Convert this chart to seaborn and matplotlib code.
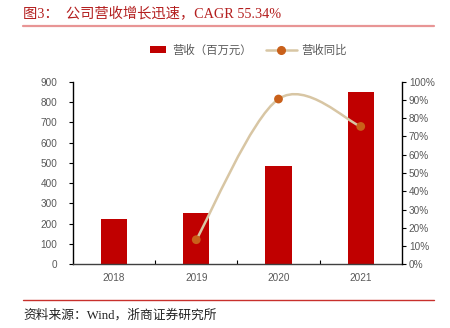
import numpy as np
import pandas as pd
import matplotlib
matplotlib.use("Agg")
import matplotlib.pyplot as plt
import seaborn as sns
from matplotlib.path import Path
from matplotlib.patches import PathPatch, Patch
from matplotlib.lines import Line2D

years = ["2018", "2019", "2020", "2021"]
revenue = [222, 253, 484, 847]
growth_years = ["2019", "2020", "2021"]
growth = [0.135, 0.905, 0.755]
left_ticks = [0, 100, 200, 300, 400, 500, 600, 700, 800, 900]
right_ticks = [0, 0.1, 0.2, 0.3, 0.4, 0.5, 0.6, 0.7, 0.8, 0.9, 1.0]

title_text = "图3：  公司营收增长迅速，CAGR 55.34%"
source_text = "资料来源：Wind，浙商证券研究所"
bar_label = "营收（百万元）"
line_label = "营收同比"

sns.set_style("white")
plt.rcParams["font.family"] = ["Liberation Sans", "Noto Sans CJK SC", "DejaVu Sans"]

BAR_C = "#C00000"
LINE_C = "#D8C6A4"
DOT_C = "#C9601A"
TICK_C = "#595959"
SANS = ["Liberation Sans", "DejaVu Sans"]
SERIF_CJK = ["Liberation Serif", "Noto Sans CJK SC", "DejaVu Sans"]

fig = plt.figure(figsize=(4.5, 3.28), dpi=100)
ax = fig.add_axes([0.162, 0.194, 0.731, 0.557])

df = pd.DataFrame({"year": years, "rev": revenue})
sns.barplot(data=df, x="year", y="rev", color=BAR_C, width=0.32, ax=ax,
            saturation=1, edgecolor="none", linewidth=0)
ax.set_xlim(-0.5, 3.5)
ax.set_ylim(0, 900)
ax.set_yticks(left_ticks)
ax.set_yticklabels([str(t) for t in left_ticks])
ax.set_xlabel("")
ax.set_ylabel("")

ax2 = ax.twinx()
ax2.set_ylim(0, 1.0)
ax2.set_yticks(right_ticks)
ax2.set_yticklabels([f"{int(round(t*100))}%" for t in right_ticks])

# smooth curve (Catmull-Rom style Bezier through data points)
xs = [years.index(y) for y in growth_years]
pts = list(zip(xs, growth))
verts = [pts[0]]
codes = [Path.MOVETO]
n = len(pts)
for i in range(n - 1):
    p0 = pts[i - 1] if i > 0 else pts[i]
    p1 = pts[i]
    p2 = pts[i + 1]
    p3 = pts[i + 2] if i + 2 < n else pts[i + 1]
    c1 = (p1[0] + (p2[0] - p0[0]) / 6, p1[1] + (p2[1] - p0[1]) / 6)
    c2 = (p2[0] - (p3[0] - p1[0]) / 6, p2[1] - (p3[1] - p1[1]) / 6)
    verts += [c1, c2, p2]
    codes += [Path.CURVE4] * 3
ax2.add_patch(PathPatch(Path(verts, codes), facecolor="none", edgecolor=LINE_C,
                        lw=1.8, zorder=3))
gdf = pd.DataFrame({"x": xs, "g": growth})
sns.scatterplot(data=gdf, x="x", y="g", ax=ax2, color=DOT_C, s=40,
                edgecolor="none", zorder=4, legend=False)
ax2.set_xlabel("")
ax2.set_ylabel("")
ax.set_xticks(range(len(years)))
ax.set_xticklabels(years)
ax.set_xlim(-0.5, 3.5)

for a in (ax, ax2):
    a.spines["top"].set_visible(False)
    a.spines["left"].set_color("black")
    a.spines["right"].set_color("black")
    a.spines["bottom"].set_color("#404040")
    for s in ("left", "right", "bottom"):
        a.spines[s].set_linewidth(1.0)
ax.spines["right"].set_visible(False)
ax2.spines["left"].set_visible(False)
ax2.spines["bottom"].set_visible(False)

ax.tick_params(axis="y", direction="out", length=3, width=0.8, color="black",
               labelsize=7.2, labelcolor=TICK_C, pad=8, left=True)
ax2.tick_params(axis="y", direction="out", length=3, width=0.8, color="black",
                labelsize=7.2, labelcolor=TICK_C, pad=2, right=True)
ax.tick_params(axis="x", length=0, labelsize=7.2, labelcolor=TICK_C, pad=6)
ax.set_xticks([0.5, 1.5, 2.5], minor=True)
ax.tick_params(axis="x", which="minor", direction="in", length=3, width=0.8,
               color="black", bottom=True)
for lab in ax.get_xticklabels() + ax.get_yticklabels() + ax2.get_yticklabels():
    lab.set_family(SANS)

leg1 = fig.legend([Patch(facecolor=BAR_C, edgecolor="none")], [bar_label],
                  loc="center left", bbox_to_anchor=(0.334, 0.848), frameon=False,
                  fontsize=8.2, handlelength=1.4, handleheight=0.45,
                  handletextpad=0.5, borderaxespad=0, borderpad=0)
leg2 = fig.legend([Line2D([0], [0], color=LINE_C, lw=1.8, marker="o", markersize=5.5,
                          markerfacecolor=DOT_C, markeredgecolor=DOT_C)], [line_label],
                  loc="center left", bbox_to_anchor=(0.591, 0.848), frameon=False,
                  fontsize=8.2, handlelength=2.7, handletextpad=0.4,
                  borderaxespad=0, borderpad=0)
for leg in (leg1, leg2):
    for t in leg.get_texts():
        t.set_color(TICK_C)
        t.set_family(["Noto Sans CJK SC", "DejaVu Sans"])

fig.text(0.051, 0.958, title_text, color="#B41F1F", fontsize=10.3,
         va="center", ha="left", family=SERIF_CJK)
fig.add_artist(Line2D([0.051, 0.964], [1 - 25.5 / 328, 1 - 25.5 / 328],
                      color="#E89595", lw=1.6, transform=fig.transFigure))
fig.add_artist(Line2D([0.051, 0.964], [1 - 300.3 / 328, 1 - 300.3 / 328],
                      color="#C8302C", lw=1.0, transform=fig.transFigure))
fig.text(0.053, 1 - 315 / 328, source_text, color="#222222", fontsize=9.2,
         va="center", ha="left", family=SERIF_CJK)

fig.savefig("out.png", dpi=100)
